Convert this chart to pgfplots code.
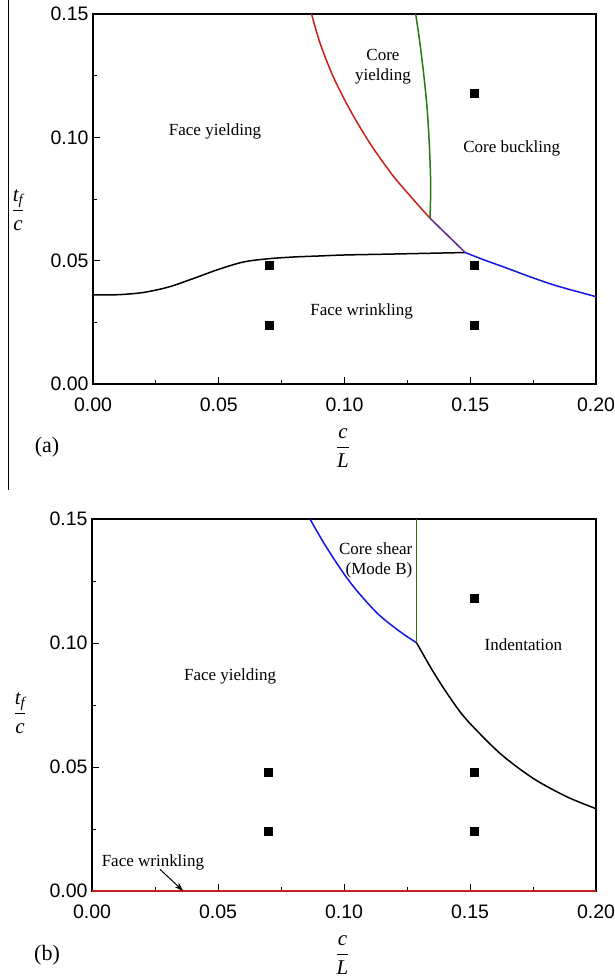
\documentclass[border=0pt]{standalone}
\usepackage{amsmath}
\usepackage{pgfplots}
\pgfplotsset{compat=1.18}
\usetikzlibrary{arrows.meta}
\usepackage{fontspec}
\setmainfont{Liberation Serif}
\setsansfont{Liberation Sans}
\definecolor{cred}{RGB}{200,30,30}
\definecolor{cgreen}{RGB}{40,120,20}
\definecolor{cblue}{RGB}{20,20,230}
\definecolor{cpurple}{RGB}{90,40,140}
\tikzset{lbl/.style={font=\fontsize{17}{20}\selectfont}}
\pgfplotsset{
  phase/.style={
    scale only axis,
    xmin=0, xmax=0.2, ymin=0, ymax=0.15,
    xtick={0,0.05,0.1,0.15,0.2},
    ytick={0,0.05,0.1,0.15},
    minor tick num=1,
    tick pos=left,
    tick align=inside,
    major tick length=7pt,
    minor tick length=4pt,
    axis line style={line width=1.3pt},
    every tick/.style={line width=0.9pt, black},
    /pgf/number format/assume math mode=true,
    /pgf/number format/.cd, fixed, fixed zerofill, precision=2, /pgfplots/.cd,
    tick label style={font=\fontsize{19.5}{22}\selectfont\sffamily},
    xticklabel style={yshift=-10pt},
    yticklabel style={xshift=-1pt},
    clip=false,
  },
}
\begin{document}
\begin{tikzpicture}
\path[use as bounding box] (0,0) rectangle (614pt,980pt);
\draw[line width=1pt] (8pt,980pt) -- (8pt,490pt);
\node[font=\fontsize{22}{24}\selectfont] at (47pt,533pt) {(a)};
\node[font=\fontsize{22}{24}\selectfont] at (47pt,25pt) {(b)};
% ---------------- (a)
\begin{axis}[phase, at={(93pt,596pt)}, anchor=south west, width=503pt, height=370pt]
\addplot[black, line width=1.5pt, smooth] coordinates {
(0,0.0361) (0.01,0.0362) (0.02,0.0371) (0.03,0.0393) (0.04,0.0428) (0.05,0.0465)
(0.06,0.0495) (0.07,0.0508) (0.08,0.0515) (0.09,0.0519) (0.10,0.0523) (0.12,0.0527) (0.148,0.0533)};
\addplot[cblue, line width=1.5pt, smooth] coordinates {
(0.148,0.0533) (0.155,0.0505) (0.165,0.0468) (0.175,0.0430) (0.185,0.0396) (0.2,0.0354)};
\addplot[cpurple, line width=1.5pt] coordinates {(0.134,0.0672) (0.148,0.0533)};
\addplot[cred, line width=1.5pt, smooth] coordinates {
(0.0869,0.15) (0.0903,0.1381) (0.0955,0.1246) (0.1022,0.1111) (0.1101,0.0976) (0.1190,0.0848) (0.1270,0.0752) (0.1340,0.0672)};
\addplot[cgreen, line width=1.5pt, smooth] coordinates {
(0.1283,0.15) (0.1300,0.1381) (0.1316,0.1246) (0.1329,0.1111) (0.1337,0.0976) (0.1342,0.0840) (0.1342,0.0746) (0.1340,0.0672)};
\addplot[only marks, mark=square*, mark size=4pt, black] coordinates {
(0.07,0.048) (0.07,0.024) (0.1515,0.048) (0.1515,0.024) (0.1515,0.118)};
\node[lbl] at (axis cs:0.0485,0.1023) {Face yielding};
\node[lbl, align=center] at (axis cs:0.1153,0.1286) {Core\\yielding};
\node[lbl] at (axis cs:0.1665,0.0955) {Core buckling};
\node[lbl] at (axis cs:0.1068,0.0293) {Face wrinkling};
\node[font=\fontsize{21}{24}\selectfont] at (rel axis cs:0.497,0) [yshift=-64pt] {$\dfrac{\textit{c}}{\textit{L}}$};
\node[font=\fontsize{21}{24}\selectfont] at (rel axis cs:0,0.47) [xshift=-75pt] {$\dfrac{\textit{t}_{\textit{f}}}{\textit{c}}$};
\end{axis}
% ---------------- (b)
\begin{axis}[phase, at={(92pt,89pt)}, anchor=south west, width=504pt, height=372pt]
\addplot[cred, line width=1.6pt] coordinates {(0,0) (0.2,0)};
\addplot[cblue, line width=1.5pt, smooth] coordinates {
(0.0865,0.15) (0.0931,0.1385) (0.1024,0.1245) (0.1130,0.1122) (0.1222,0.1046) (0.1288,0.1001)};
\addplot[cgreen, line width=1.5pt] coordinates {(0.1288,0.1001) (0.1288,0.15)};
\addplot[black, line width=1.5pt, smooth] coordinates {
(0.1288,0.1001) (0.1354,0.0884) (0.1421,0.0779) (0.1487,0.0690) (0.1619,0.0555) (0.1751,0.0454) (0.1884,0.0380) (0.2,0.0332)};
\addplot[only marks, mark=square*, mark size=4pt, black] coordinates {
(0.07,0.048) (0.07,0.024) (0.1515,0.048) (0.1515,0.024) (0.1515,0.118)};
\node[lbl] at (axis cs:0.0548,0.0864) {Face yielding};
\node[lbl, align=right, anchor=east] at (axis cs:0.1285,0.1335) {Core shear\\(Mode B)};
\node[lbl] at (axis cs:0.1712,0.0992) {Indentation};
\node[lbl] at (axis cs:0.0242,0.0114) {Face wrinkling};
\draw[-{Stealth[length=9pt,width=6pt]}, line width=1pt] (axis cs:0.0270,0.0087) -- (axis cs:0.0362,0.0);
\node[font=\fontsize{21}{24}\selectfont] at (rel axis cs:0.497,0) [yshift=-64pt] {$\dfrac{\textit{c}}{\textit{L}}$};
\node[font=\fontsize{21}{24}\selectfont] at (rel axis cs:0,0.478) [xshift=-72pt] {$\dfrac{\textit{t}_{\textit{f}}}{\textit{c}}$};
\end{axis}
\end{tikzpicture}
\end{document}
